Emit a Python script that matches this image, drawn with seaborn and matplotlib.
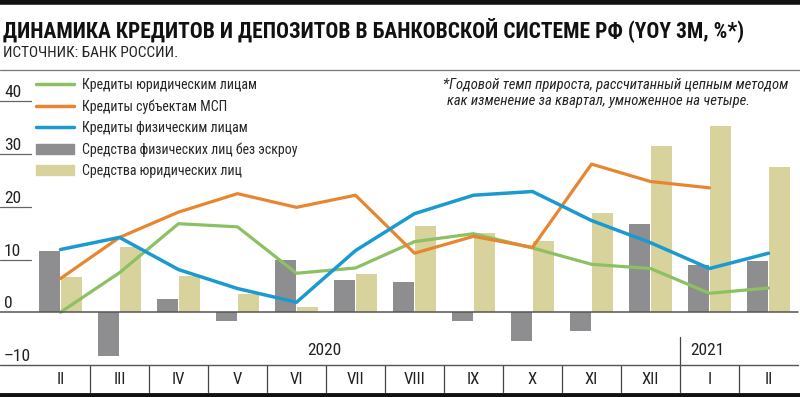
import numpy as np
import pandas as pd
import matplotlib
matplotlib.use('Agg')
import matplotlib.pyplot as plt
from matplotlib import font_manager
from matplotlib.lines import Line2D
from matplotlib.patches import Patch
import seaborn as sns

# periods (quarter-on-quarter, annualised)
periods = ['II 2020', 'III 2020', 'IV 2020', 'V 2020', 'VI 2020', 'VII 2020', 'VIII 2020',
           'IX 2020', 'X 2020', 'XI 2020', 'XII 2020', 'I 2021', 'II 2021']
month_labels = [p.split()[0] for p in periods]

# lines
credit_corp = [0.0, 7.5, 16.8, 16.2, 7.4, 8.4, 13.4, 14.9, 12.2, 9.1, 8.3, 3.6, 4.6]
credit_sme = [6.4, 14.2, 19.0, 22.5, 19.9, 22.2, 11.2, 14.4, 12.3, 28.1, 24.8, 23.6, np.nan]
credit_retail = [11.9, 14.2, 8.1, 4.5, 1.9, 11.7, 18.7, 22.2, 22.9, 17.4, 13.2, 8.3, 11.2]

# bars
dep_retail = [11.6, -8.2, 2.5, -1.7, 9.9, 6.1, 5.7, -1.7, -5.5, -3.6, 16.7, 8.9, 9.7]
dep_corp = [6.6, 12.3, 6.8, 3.4, 1.0, 7.2, 16.3, 15.0, 13.6, 18.8, 31.5, 35.3, 27.5]

series_names = ['Кредиты юридическим лицам', 'Кредиты субъектам МСП', 'Кредиты физическим лицам',
                'Средства физических лиц без эскроу', 'Средства юридических лиц']

GREEN, ORANGE, BLUE = '#8cc063', '#e8862f', '#1b9ad0'
GRAY, TAN = '#8e8e90', '#d8d29c'

sns.set_theme(style='white')
names = {f.name for f in font_manager.fontManager.ttflist}
cond = next((n for n in ['Liberation Sans Narrow', 'Roboto Condensed', 'Open Sans Condensed']
             if n in names), 'Liberation Sans')
plt.rcParams['font.family'] = [cond, 'DejaVu Sans']

W, H = 800, 397
fx = lambda px: px / W
fy = lambda py: 1 - py / H

fig = plt.figure(figsize=(8, 3.97), dpi=100)
ax = fig.add_axes([fx(31), fy(365), fx(767), 290 / H])

x_pos = np.arange(len(periods))
bars = pd.DataFrame({
    'x': np.concatenate([x_pos, x_pos]),
    'value': dep_retail + dep_corp,
    'series': [series_names[3]] * len(periods) + [series_names[4]] * len(periods),
})
sns.barplot(data=bars, x='x', y='value', hue='series', native_scale=True,
            palette=[GRAY, TAN], width=0.75, gap=0.05, legend=False, ax=ax,
            saturation=1, linewidth=0, errorbar=None)

for vals, col, lw in [(credit_corp, GREEN, 2.3), (credit_sme, ORANGE, 2.3), (credit_retail, BLUE, 2.5)]:
    sns.lineplot(x=x_pos, y=vals, color=col, linewidth=lw, ax=ax)

ax.set_xlim(-0.5, 12.5)
ax.set_ylim(-10, 45)
ax.set_xticks([])
ax.set_yticks([])
ax.set_xlabel('')
ax.set_ylabel('')
for s in ax.spines.values():
    s.set_visible(False)

# y tick labels with stubs on the left
for v in [40, 30, 20, 10, 0, -10]:
    y = fy(365 - (v + 10) / 55 * 290)
    lbl = '–10' if v < 0 else str(v)
    fig.text(fx(4), y + 1 / H, lbl, fontsize=12.5, va='bottom', ha='left', color='#222222')
    if v > 0:
        fig.add_artist(Line2D([0, fx(31)], [y, y], color='#666666', lw=0.9))
# zero line
y0 = fy(312)
fig.add_artist(Line2D([0, fx(798)], [y0, y0], color='#555555', lw=1.1))

# category row
axr = fig.add_axes([fx(31), fy(392), fx(767), 27 / H])
axr.set_xlim(-0.5, 12.5)
axr.set_ylim(0, 1)
axr.axis('off')
for i in range(1, len(periods)):
    top = 2.04 if i == 11 else 1
    axr.plot([i - 0.5, i - 0.5], [0, top], color='#444444', lw=0.9, clip_on=False)
for i, lbl in enumerate(month_labels):
    axr.text(i, 0.45, lbl, ha='center', va='center', fontsize=12, color='#222222')
axr.text(4.48, 1.55, '2020', ha='center', va='center', fontsize=12.5, color='#222222')
axr.text(10.97, 1.55, '2021', ha='center', va='center', fontsize=12.5, color='#222222')
fig.add_artist(Line2D([0, fx(798)], [fy(365), fy(365)], color='#555555', lw=1.0))
fig.add_artist(Line2D([0, 1], [fy(395), fy(395)], color='#111111', lw=3.5))

# header
fig.add_artist(Line2D([0, 1], [fy(2), fy(2)], color='#111111', lw=4))
fig.text(fx(3), fy(30), 'ДИНАМИКА КРЕДИТОВ И ДЕПОЗИТОВ В БАНКОВСКОЙ СИСТЕМЕ РФ (YOY 3M, %*)',
         fontsize=15.5, fontweight='bold', va='center', ha='left', color='#111111')
fig.text(fx(3), fy(53), 'ИСТОЧНИК: БАНК РОССИИ.', fontsize=11, va='center', ha='left', color='#222222')
fig.add_artist(Line2D([0, 1], [fy(70), fy(70)], color='#777777', lw=0.9))

# footnote
fig.text(fx(443), fy(85), '*Годовой темп прироста, рассчитанный цепным методом',
         fontsize=10.5, style='italic', va='center', ha='left', color='#222222')
fig.text(fx(447), fy(101), 'как изменение за квартал, умноженное на четыре.',
         fontsize=10.5, style='italic', va='center', ha='left', color='#222222')

# legend
handles = [Line2D([], [], color=GREEN, lw=2.5), Line2D([], [], color=ORANGE, lw=2.5),
           Line2D([], [], color=BLUE, lw=2.5), Patch(color=GRAY), Patch(color=TAN)]
fig.legend(handles, series_names, loc='upper left', bbox_to_anchor=(fx(36), fy(78)),
           frameon=False, fontsize=10, handlelength=2.7, handletextpad=0.6,
           labelspacing=0.52, borderaxespad=0, borderpad=0)

fig.savefig('out.png', dpi=100)
